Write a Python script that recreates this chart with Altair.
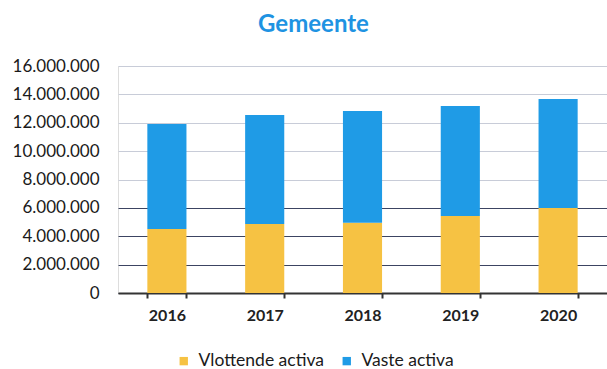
import altair as alt
import pandas as pd

# Balance-sheet assets of the municipality per year (euro)
years = ["2016", "2017", "2018", "2019", "2020"]
vlottende_activa = [4510000, 4860000, 4950000, 5430000, 5990000]
vaste_activa = [7400000, 7680000, 7880000, 7750000, 7680000]
series = ["Vlottende activa", "Vaste activa"]
series_colors = ["#F6C243", "#1F9BE6"]
y_ticks = [0, 2000000, 4000000, 6000000, 8000000, 10000000, 12000000, 14000000, 16000000]

rows = []
for i, year in enumerate(years):
    rows.append({"jaar": year, "soort": series[0], "bedrag": vlottende_activa[i], "volgorde": 0})
    rows.append({"jaar": year, "soort": series[1], "bedrag": vaste_activa[i], "volgorde": 1})
df = pd.DataFrame(rows)

FONT = "Lato"

chart = (
    alt.Chart(df)
    .mark_bar()
    .encode(
        x=alt.X(
            "jaar:N",
            sort=years,
            title=None,
            scale=alt.Scale(paddingInner=0.6, paddingOuter=0.3),
            axis=alt.Axis(
                labelAngle=0,
                labelFont=FONT,
                labelFontSize=16,
                labelFontWeight="bold",
                labelColor="#222222",
                labelPadding=9,
                domain=True,
                domainColor="#333333",
                domainWidth=2,
                tickColor="#333333",
                tickWidth=2,
                tickSize=5,
                tickBand="extent",
                grid=False,
            ),
        ),
        y=alt.Y(
            "bedrag:Q",
            stack="zero",
            title=None,
            scale=alt.Scale(domain=[0, 16000000], nice=False),
            axis=alt.Axis(
                values=y_ticks,
                labelExpr="replace(format(datum.value, ','), regexp(',', 'g'), '.')",
                labelFont=FONT,
                labelFontSize=17,
                labelColor="#1a1a1a",
                labelPadding=19,
                ticks=False,
                domain=False,
                domainColor="white",
                domainWidth=0,
                grid=True,
                gridWidth=1,
                gridColor={
                    "condition": {"test": "datum.value <= 6000000", "value": "#3c4462"},
                    "value": "#c8ccd8",
                },
            ),
        ),
        color=alt.Color(
            "soort:N",
            scale=alt.Scale(domain=series, range=series_colors),
            legend=alt.Legend(
                title=None,
                orient="none",
                direction="horizontal",
                legendX=57,
                legendY=286,
                symbolType="square",
                symbolSize=70,
                symbolStrokeWidth=0,
                labelFont=FONT,
                labelFontSize=17.5,
                labelColor="#1a1a1a",
                labelOffset=6,
                columnPadding=14,
            ),
        ),
        order=alt.Order("volgorde:Q", sort="ascending"),
    )
    .properties(
        width=489,
        height=227,
        padding={"left": 118, "top": 66, "right": 0, "bottom": 76},
        autosize=alt.AutoSizeParams(type="none"),
        title=alt.TitleParams(
            "Gemeente",
            font=FONT,
            fontSize=24,
            fontWeight="bold",
            color="#1E93E2",
            anchor="middle",
            dx=-49,
            offset=20,
        ),
    )
    .configure_view(stroke="transparent", strokeWidth=0)
    .configure_axisY(domainColor="white", domainWidth=0)
    .configure(background="white")
)

chart.save("out.html", embed_options={"renderer": "svg", "actions": False})
